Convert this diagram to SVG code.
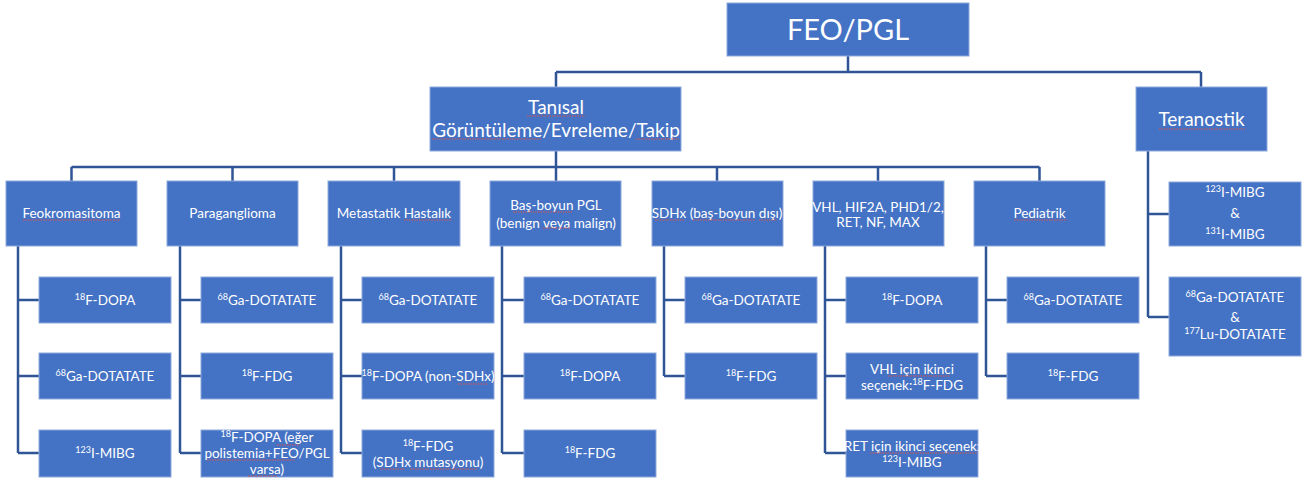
<svg xmlns="http://www.w3.org/2000/svg" width="1302" height="479" viewBox="0 0 1302 479">
<style>
.box{fill:#4472C4;stroke:#8EA9DB;stroke-width:1}
.t{fill:#ffffff;font-family:Lato,"Liberation Sans",sans-serif;font-size:13.5px;text-anchor:middle}
.big{font-size:29px}
.mid{font-size:19px}
.sup{font-size:9px}
.conn{fill:none;stroke:#2F5597;stroke-width:2.5}
.spell{fill:none;stroke:#D9534F;stroke-width:1;stroke-dasharray:1.5 1}
</style>
<rect width="1302" height="479" fill="#ffffff"/>
<g id="connectors" class="conn">
<path d="M848 56V72M556 72H1201M556 72V87M1201 72V87"/>
<path d="M556 151V167M71.5 167H1039.5M71.5 167V181M232.5 167V181M394 167V181M556 167V181M717 167V181M878 167V181M1039.5 167V181"/>
<path d="M18 246V453M18 300H39M18 376H39M18 453H39"/>
<path d="M180 246V453M180 300H201M180 376H201M180 453H201"/>
<path d="M341 246V453M341 300H362M341 376H362M341 453H362"/>
<path d="M502 246V453M502 300H524M502 376H524M502 453H524"/>
<path d="M664 246V376M664 300H685M664 376H685"/>
<path d="M825 246V453M825 300H846M825 376H846M825 453H846"/>
<path d="M986 246V376M986 300H1007M986 376H1007"/>
<path d="M1148 151V317M1148 214H1169M1148 317H1169"/>
</g>
<g id="n-root"><rect class="box" x="727" y="3" width="242" height="53"/><text class="t big" x="848" y="40">FEO/PGL</text></g>
<g id="n-tanisal"><rect class="box" x="430" y="87" width="251" height="64"/><text class="t mid" x="556" y="114">Tanısal</text><text class="t mid" x="556" y="137">Görüntüleme/Evreleme/Takip</text></g>
<g id="n-teranostik"><rect class="box" x="1136" y="87" width="131" height="64"/><text class="t mid" x="1201.5" y="126">Teranostik</text></g>

<g id="n-feo"><rect class="box" x="6" y="181" width="131" height="65"/><text class="t" x="71.5" y="218">Feokromasitoma</text></g>
<g id="n-pgl"><rect class="box" x="167" y="181" width="131" height="65"/><text class="t" x="232.5" y="218">Paraganglioma</text></g>
<g id="n-meta"><rect class="box" x="328" y="181" width="132" height="65"/><text class="t" x="394" y="218">Metastatik Hastalık</text></g>
<g id="n-hn"><rect class="box" x="490" y="181" width="131" height="65"/><text class="t" x="556" y="210">Baş-boyun PGL</text><text class="t" x="556" y="228">(benign veya malign)</text></g>
<g id="n-sdhx"><rect class="box" x="652" y="181" width="131" height="65"/><text class="t" x="717" y="218">SDHx (baş-boyun dışı)</text></g>
<g id="n-vhl"><rect class="box" x="813" y="181" width="131" height="65"/><text class="t" x="878" y="212">VHL, HIF2A, PHD1/2,</text><text class="t" x="878" y="227">RET, NF, MAX</text></g>
<g id="n-ped"><rect class="box" x="974" y="181" width="131" height="65"/><text class="t" x="1039.5" y="218">Pediatrik</text></g>

<g id="n-feo-1"><rect class="box" x="39" y="277" width="132" height="46"/><text class="t" x="105" y="305"><tspan class="sup" dy="-5">18</tspan><tspan dy="5">F-DOPA</tspan></text></g>
<g id="n-feo-2"><rect class="box" x="39" y="353" width="132" height="46"/><text class="t" x="105" y="381"><tspan class="sup" dy="-5">68</tspan><tspan dy="5">Ga-DOTATATE</tspan></text></g>
<g id="n-feo-3"><rect class="box" x="39" y="430" width="132" height="47"/><text class="t" x="105" y="458"><tspan class="sup" dy="-5">123</tspan><tspan dy="5">I-MIBG</tspan></text></g>

<g id="n-pgl-1"><rect class="box" x="201" y="277" width="132" height="46"/><text class="t" x="267" y="305"><tspan class="sup" dy="-5">68</tspan><tspan dy="5">Ga-DOTATATE</tspan></text></g>
<g id="n-pgl-2"><rect class="box" x="201" y="353" width="132" height="46"/><text class="t" x="267" y="381"><tspan class="sup" dy="-5">18</tspan><tspan dy="5">F-FDG</tspan></text></g>
<g id="n-pgl-3"><rect class="box" x="201" y="430" width="132" height="47"/><text class="t" x="267" y="442"><tspan class="sup" dy="-5">18</tspan><tspan dy="5">F-DOPA (eğer</tspan></text><text class="t" x="267" y="458">polistemia+FEO/PGL</text><text class="t" x="267" y="474">varsa)</text></g>

<g id="n-meta-1"><rect class="box" x="362" y="277" width="132" height="46"/><text class="t" x="428" y="305"><tspan class="sup" dy="-5">68</tspan><tspan dy="5">Ga-DOTATATE</tspan></text></g>
<g id="n-meta-2"><rect class="box" x="362" y="353" width="132" height="46"/><text class="t" x="428" y="381"><tspan class="sup" dy="-5">18</tspan><tspan dy="5">F-DOPA (non-SDHx)</tspan></text></g>
<g id="n-meta-3"><rect class="box" x="362" y="430" width="132" height="47"/><text class="t" x="428" y="451"><tspan class="sup" dy="-5">18</tspan><tspan dy="5">F-FDG</tspan></text><text class="t" x="428" y="467">(SDHx mutasyonu)</text></g>

<g id="n-hn-1"><rect class="box" x="524" y="277" width="132" height="46"/><text class="t" x="590" y="305"><tspan class="sup" dy="-5">68</tspan><tspan dy="5">Ga-DOTATATE</tspan></text></g>
<g id="n-hn-2"><rect class="box" x="524" y="353" width="132" height="46"/><text class="t" x="590" y="381"><tspan class="sup" dy="-5">18</tspan><tspan dy="5">F-DOPA</tspan></text></g>
<g id="n-hn-3"><rect class="box" x="524" y="430" width="132" height="47"/><text class="t" x="590" y="458"><tspan class="sup" dy="-5">18</tspan><tspan dy="5">F-FDG</tspan></text></g>

<g id="n-sdhx-1"><rect class="box" x="685" y="277" width="132" height="46"/><text class="t" x="751" y="305"><tspan class="sup" dy="-5">68</tspan><tspan dy="5">Ga-DOTATATE</tspan></text></g>
<g id="n-sdhx-2"><rect class="box" x="685" y="353" width="132" height="46"/><text class="t" x="751" y="381"><tspan class="sup" dy="-5">18</tspan><tspan dy="5">F-FDG</tspan></text></g>

<g id="n-vhl-1"><rect class="box" x="846" y="277" width="132" height="46"/><text class="t" x="912" y="305"><tspan class="sup" dy="-5">18</tspan><tspan dy="5">F-DOPA</tspan></text></g>
<g id="n-vhl-2"><rect class="box" x="846" y="353" width="132" height="46"/><text class="t" x="912" y="374">VHL için ikinci</text><text class="t" x="912" y="390">seçenek:<tspan class="sup" dy="-5">18</tspan><tspan dy="5">F-FDG</tspan></text></g>
<g id="n-vhl-3"><rect class="box" x="846" y="430" width="132" height="47"/><text class="t" x="912" y="451">RET için ikinci seçenek:</text><text class="t" x="912" y="467"><tspan class="sup" dy="-5">123</tspan><tspan dy="5">I-MIBG</tspan></text></g>

<g id="n-ped-1"><rect class="box" x="1007" y="277" width="132" height="46"/><text class="t" x="1073" y="305"><tspan class="sup" dy="-5">68</tspan><tspan dy="5">Ga-DOTATATE</tspan></text></g>
<g id="n-ped-2"><rect class="box" x="1007" y="353" width="132" height="46"/><text class="t" x="1073" y="381"><tspan class="sup" dy="-5">18</tspan><tspan dy="5">F-FDG</tspan></text></g>

<g id="n-ter-1"><rect class="box" x="1169" y="182" width="132" height="64"/><text class="t" x="1235" y="197"><tspan class="sup" dy="-5">123</tspan><tspan dy="5">I-MIBG</tspan></text><text class="t" x="1235" y="218">&amp;</text><text class="t" x="1235" y="239"><tspan class="sup" dy="-5">131</tspan><tspan dy="5">I-MIBG</tspan></text></g>
<g id="n-ter-2"><rect class="box" x="1169" y="277" width="132" height="79"/><text class="t" x="1235" y="302"><tspan class="sup" dy="-5">68</tspan><tspan dy="5">Ga-DOTATATE</tspan></text><text class="t" x="1235" y="322">&amp;</text><text class="t" x="1235" y="339"><tspan class="sup" dy="-5">177</tspan><tspan dy="5">Lu-DOTATATE</tspan></text></g>

<g id="spellcheck" class="spell">
<path d="M527 116H585M432 139H541M636 139H679M1159 129H1245M23 220H120M1014 220H1067M404 220H452M513 212H573M543 228H570M458 384H487M380 469H404M410 469H477M655 220H685M693 220H755M759 220H777M888 376H950M870 453H977M277 445H300M207 460H295M248 476H278"/>
</g>
</svg>
